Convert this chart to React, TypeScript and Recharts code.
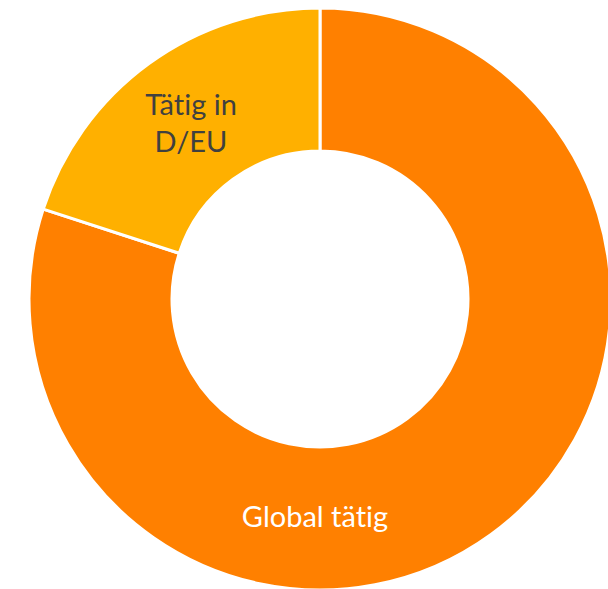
import { PieChart, Pie, Cell } from 'recharts';

const categories = ['Global tätig', 'Tätig in D/EU'];
const shares = [80, 20];
const colors = ['#FF8000', '#FFB000'];

const data = categories.map((name, i) => ({ name, value: shares[i] }));

const RAD = Math.PI / 180;

function renderLabel(props: any) {
  const { cx, cy, innerRadius, outerRadius, midAngle, index } = props;
  const r = (innerRadius + outerRadius) / 2 - (index === 0 ? 4 : 0);
  // Global label sits at the bottom of the ring, the small slice uses its mid angle
  const angle = index === 0 ? -90 : midAngle;
  const x = cx + r * Math.cos(-angle * RAD) - (index === 0 ? 5 : 0);
  const y = cy + r * Math.sin(-angle * RAD);
  const fill = index === 0 ? '#ffffff' : '#404040';
  const lines = index === 0 ? [categories[0]] : ['Tätig in', 'D/EU'];
  const lh = 37;
  const y0 = y - ((lines.length - 1) * lh) / 2;
  return (
    <text
      x={x}
      y={y0}
      fill={fill}
      textAnchor='middle'
      dominantBaseline='central'
      style={{
        fontFamily: 'Lato, "Open Sans", sans-serif',
        fontSize: 29,
        fontVariantLigatures: 'none',
      }}
    >
      {lines.map((l, i) => (
        <tspan key={i} x={x} y={y0 + i * lh} dominantBaseline='central'>
          {l}
        </tspan>
      ))}
    </text>
  );
}

export default function App() {
  return (
    <div style={{ position: 'fixed', left: 0, top: 0, width: 608, height: 589, background: '#fff' }}>
      <PieChart width={608} height={589} margin={{ top: 0, right: 0, bottom: 0, left: 0 }}>
        <Pie
          data={data}
          dataKey='value'
          nameKey='name'
          cx={320}
          cy={299}
          innerRadius={148}
          outerRadius={291}
          startAngle={90}
          endAngle={-270}
          stroke='#ffffff'
          strokeWidth={3}
          label={renderLabel}
          labelLine={false}
          isAnimationActive={false}
        >
          {data.map((d, i) => (
            <Cell key={d.name} fill={colors[i]} />
          ))}
        </Pie>
      </PieChart>
    </div>
  );
}
